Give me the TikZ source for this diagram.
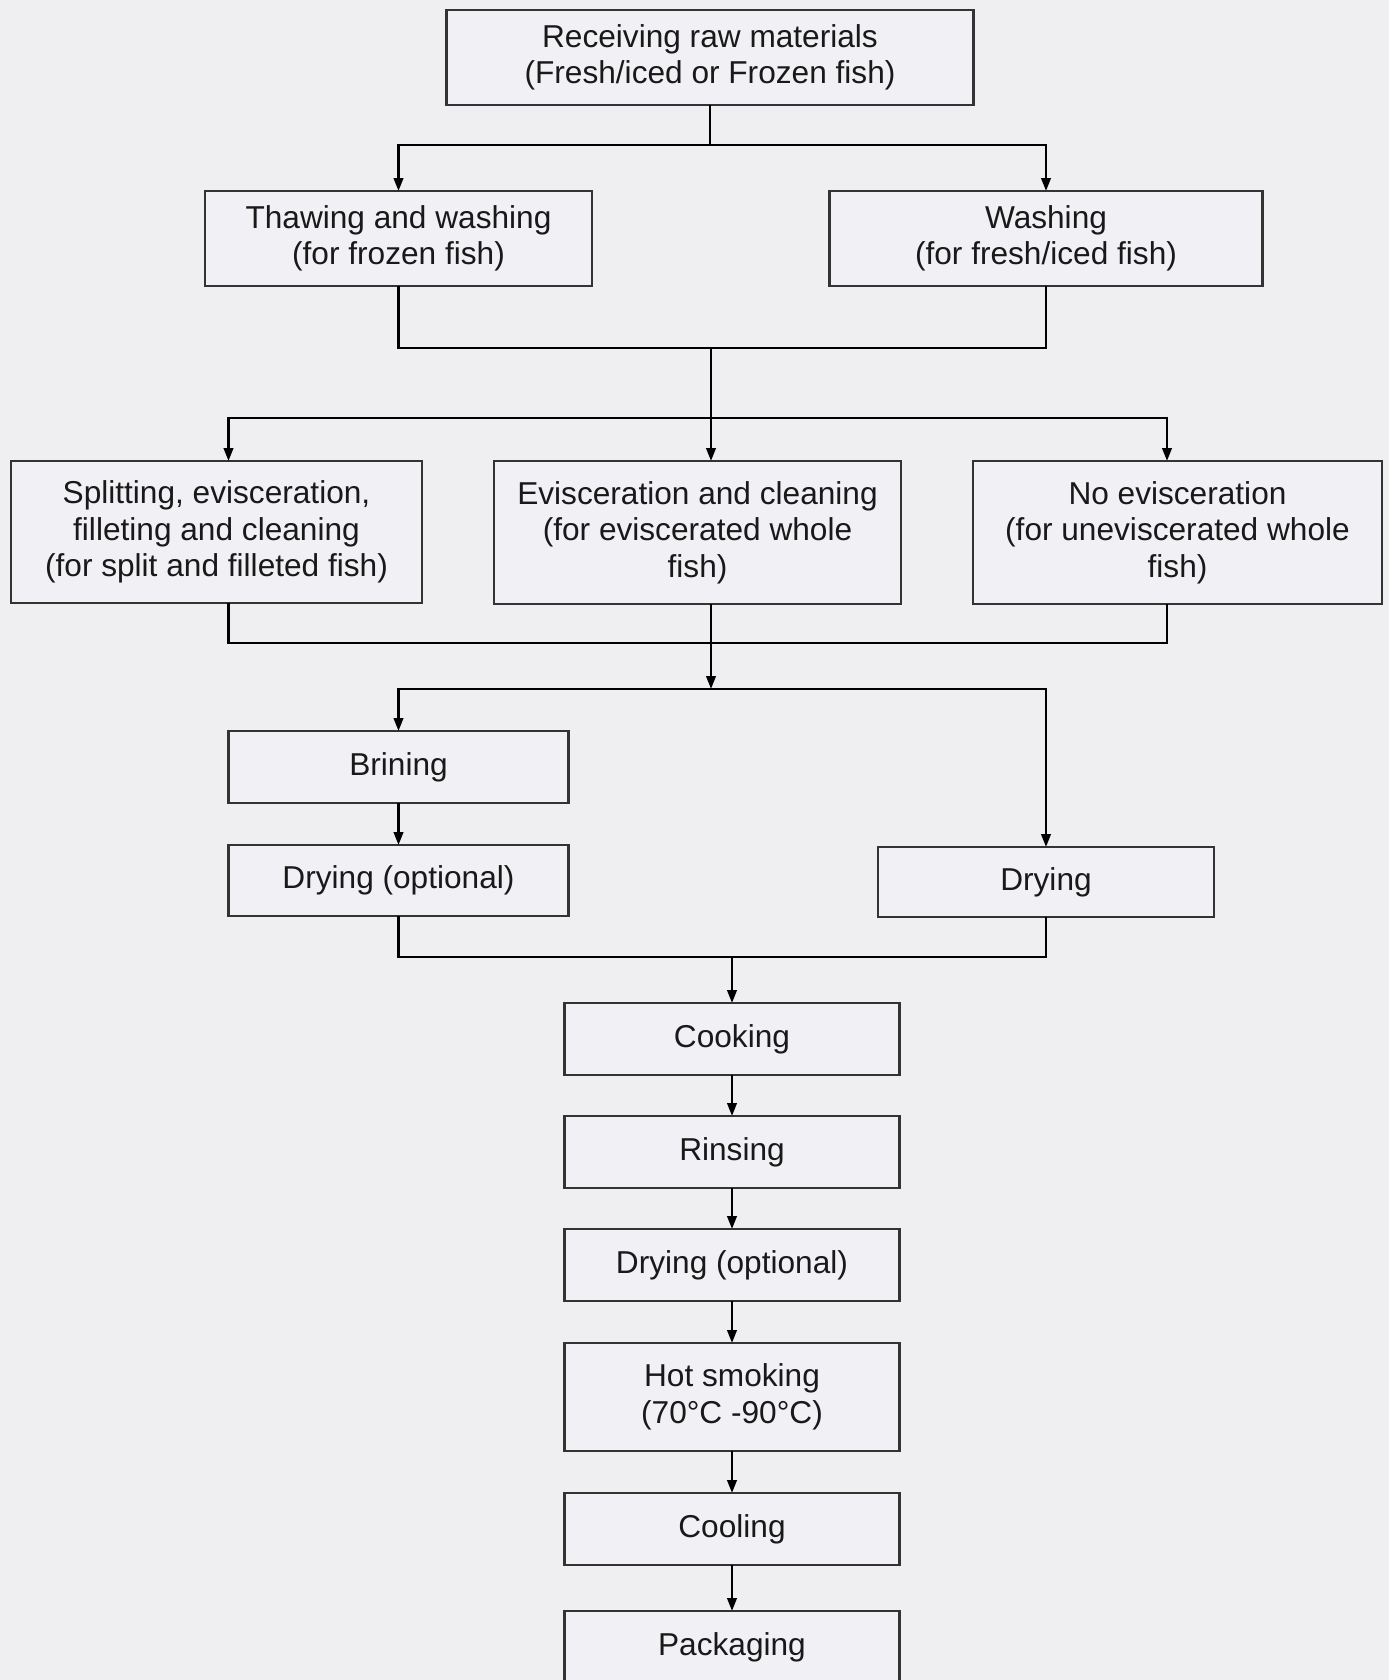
\documentclass[tikz,border=0pt]{standalone}
\usepackage{fontspec}
\setmainfont{Liberation Sans}
\usetikzlibrary{arrows.meta}
\definecolor{pagegray}{RGB}{239,239,241}
\definecolor{boxgray}{RGB}{241,241,245}

\begin{document}
\begin{tikzpicture}[x=1mm, y=-1mm, line width=0.7pt,
        every node/.style={font=\fontsize{9}{10.4}\selectfont, text=black!90},
        stage/.style={draw=black!80, fill=boxgray, align=center, inner sep=0pt, outer sep=0pt},
        flow/.style={-{Triangle[length=1.3mm, width=0.95mm]}}]
            \fill[pagegray] (0,0) rectangle (138.9,168);
            \useasboundingbox (0,0) rectangle (138.9,168);
            \node[stage, minimum width=52.7mm, minimum height=9.5mm] (receive) at (71.0,5.75) {Receiving raw materials\\(Fresh/iced or Frozen fish)};
            \node[stage, minimum width=38.7mm, minimum height=9.5mm] (thaw) at (39.85,23.85) {Thawing and washing\\(for frozen fish)};
            \node[stage, minimum width=43.3mm, minimum height=9.5mm] (wash) at (104.6,23.85) {Washing\\(for fresh/iced fish)};
            \node[stage, minimum width=41.1mm, minimum height=14.2mm] (split) at (21.65,53.2) {Splitting, evisceration,\\filleting and cleaning\\(for split and filleted fish)};
            \node[stage, minimum width=40.7mm, minimum height=14.3mm] (evisc) at (69.75,53.25) {Evisceration and cleaning\\(for eviscerated whole\\fish)};
            \node[stage, minimum width=40.9mm, minimum height=14.3mm] (noevisc) at (117.75,53.25) {No evisceration\\(for uneviscerated whole\\fish)};
            \node[stage, minimum width=34mm, minimum height=7.2mm] (brine) at (39.85,76.7) {Brining};
            \node[stage, minimum width=34mm, minimum height=7.1mm] (dryopt) at (39.85,88.05) {Drying (optional)};
            \node[stage, minimum width=33.6mm, minimum height=7mm] (dry) at (104.6,88.2) {Drying};
            \node[stage, minimum width=33.5mm, minimum height=7.2mm] (cook) at (73.2,103.9) {Cooking};
            \node[stage, minimum width=33.5mm, minimum height=7.2mm] (rinse) at (73.2,115.2) {Rinsing};
            \node[stage, minimum width=33.5mm, minimum height=7.2mm] (redry) at (73.2,126.5) {Drying (optional)};
            \node[stage, minimum width=33.5mm, minimum height=10.8mm] (smoke) at (73.2,139.7) {Hot smoking\\(70°C -90°C)};
            \node[stage, minimum width=33.5mm, minimum height=7.2mm] (cool) at (73.2,152.9) {Cooling};
            \node[stage, minimum width=33.5mm, minimum height=7.2mm] (pack) at (73.2,164.7) {Packaging};
            \coordinate (fork1) at (71.0,14.5);
            \coordinate (join1) at (71.1,34.8);
            \coordinate (fork2) at (71.1,41.8);
            \coordinate (join2) at (71.1,64.3);
            \coordinate (fork3) at (71.1,68.9);
            \coordinate (join3) at (73.2,95.7);
            \draw (receive.south) -- (fork1);
            \draw[flow] (fork1) -| (thaw.north);
            \draw[flow] (fork1) -| (wash.north);
            \draw (thaw.south) |- (join1);
            \draw (wash.south) |- (join1);
            \draw (join1) -- (fork2);
            \draw[flow] (fork2) -| ([xshift=1.2mm]split.north);
            \draw[flow] (fork2) -- (fork2 |- evisc.north);
            \draw[flow] (fork2) -| ([xshift=-1.05mm]noevisc.north);
            \draw ([xshift=1.2mm]split.south) |- (join2);
            \draw ([xshift=-1.05mm]noevisc.south) |- (join2);
            \draw (join2 |- evisc.south) -- (join2);
            \draw[flow] (join2) -- (fork3);
            \draw[flow] (fork3) -| (brine.north);
            \draw[flow] (fork3) -| (dry.north);
            \draw[flow] (brine) -- (dryopt);
            \draw (dryopt.south) |- (join3);
            \draw (dry.south) |- (join3);
            \draw[flow] (join3) -- (cook);
            \foreach \from/\to in {cook/rinse, rinse/redry, redry/smoke, smoke/cool, cool/pack}
                \draw[flow] (\from) -- (\to);
        \end{tikzpicture}
\end{document}
